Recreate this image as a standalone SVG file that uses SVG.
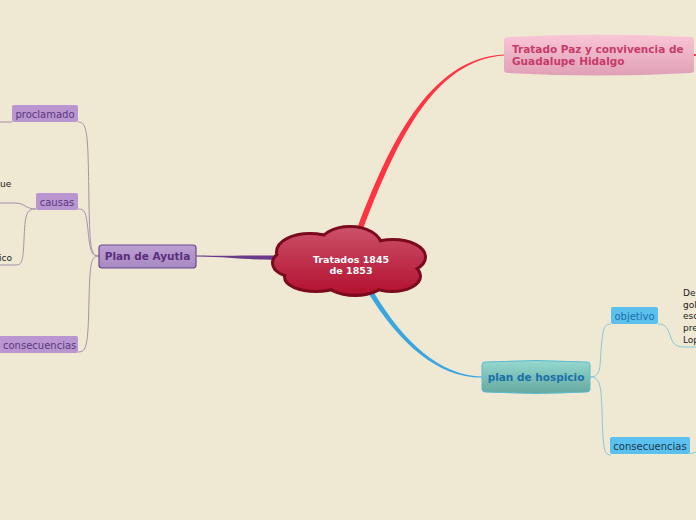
<svg xmlns="http://www.w3.org/2000/svg" width="696" height="520" viewBox="0 0 696 520">
<defs>
<linearGradient id="cloudG" gradientUnits="userSpaceOnUse" x1="0" y1="228" x2="0" y2="296"><stop offset="0" stop-color="#cc5068"/><stop offset="1" stop-color="#b20f2e"/></linearGradient>
<linearGradient id="pinkG" x1="0" y1="0" x2="0" y2="1"><stop offset="0" stop-color="#f9c6d6"/><stop offset="1" stop-color="#e0a0b6"/></linearGradient>
<linearGradient id="tealG" x1="0" y1="0" x2="0" y2="1"><stop offset="0" stop-color="#94d8d0"/><stop offset="1" stop-color="#64a8a0"/></linearGradient>
<linearGradient id="purG" x1="0" y1="0" x2="0" y2="1"><stop offset="0" stop-color="#bc9fd3"/><stop offset="1" stop-color="#a888c2"/></linearGradient>
<style>
.t{font-family:"DejaVu Sans",Verdana,sans-serif}
.pl{fill:#b996cf}
.plt{font-size:10px;fill:#5a3880}
.bl{fill:#5bc0ee}
.thinP{fill:none;stroke:#a393ab;stroke-width:1}
.thinB{fill:none;stroke:#86c8dc;stroke-width:1}
.note{font-size:9px;fill:#222}
</style>
</defs>
<rect width="696" height="520" fill="#efe8d2"/>
<g id="connectors">
<path d="M357,229 C387,150 428,57 505,54.5 L505,55.5 C431,59 393,151 363,229 Z" fill="#ff3341"/>
<path d="M694,55 L696,55" stroke="#ff3341" stroke-width="2"/>
<path d="M367.9,292.4 C400.5,345.2 439.5,378 482,377.5 L482,376.5 C440.5,376 403.5,342.8 372.1,289.6 Z" fill="#3aa6e0"/>
<path d="M196,255.5 C230,256 250,255.5 276,255.5 L276,260 C250,260 230,257 196,256.5 Z" fill="#6a3a8c"/>
<path class="thinP" d="M99,256 C91,256 90,250 89,205 C88,135 88,122 78,122"/>
<path class="thinP" d="M99,256 C91,256 90,250 88,230 C86,212 85,209 78,209"/>
<path class="thinP" d="M99,256 C91,256 90,262 89,300 C88,345 87,352 78,352"/>
<path class="thinP" d="M0,122 L12,122"/>
<path class="thinP" d="M0,203 L15,203 C25,203 25,209 36,209"/>
<path class="thinP" d="M36,209 C26,209 25,215 24,240 C23,262 22,265 15,265 L0,265"/>
<path class="thinB" d="M590,377 C600,377 600,370 601,350 C603,328 604,324 611,324"/>
<path class="thinB" d="M590,377 C600,377 601,385 602,410 C603,450 604,455 611,455"/>
<path class="thinB" d="M658,324 C667,324 668,330 671,338 C674,346 678,347 686,347 L696,347"/>
<path class="thinB" d="M690,454 L696,452"/>
</g>
<g id="central">
<g fill="#7c0a1f" stroke="#7c0a1f" stroke-width="6">
<ellipse cx="310" cy="252" rx="32" ry="17"/>
<ellipse cx="350" cy="246" rx="30" ry="18"/>
<ellipse cx="393" cy="257" rx="31" ry="16"/>
<ellipse cx="297" cy="263" rx="23" ry="13"/>
<ellipse cx="316" cy="277" rx="30" ry="13"/>
<ellipse cx="355" cy="279" rx="30" ry="15"/>
<ellipse cx="392" cy="276" rx="27" ry="14"/>
</g>
<g fill="url(#cloudG)">
<ellipse cx="310" cy="252" rx="32" ry="17"/>
<ellipse cx="350" cy="246" rx="30" ry="18"/>
<ellipse cx="393" cy="257" rx="31" ry="16"/>
<ellipse cx="297" cy="263" rx="23" ry="13"/>
<ellipse cx="316" cy="277" rx="30" ry="13"/>
<ellipse cx="355" cy="279" rx="30" ry="15"/>
<ellipse cx="392" cy="276" rx="27" ry="14"/>
<ellipse cx="350" cy="264" rx="62" ry="22"/>
</g>
<text class="t" x="351" y="263" text-anchor="middle" font-size="9.5" font-weight="bold" fill="#fff">Tratados 1845</text>
<text class="t" x="351" y="274" text-anchor="middle" font-size="9.5" font-weight="bold" fill="#fff">de 1853</text>
</g>
<g id="tratado-paz">
<path d="M508,37 Q599,32 690,37 Q694,37 694,41 L694,70 Q694,73 690,73 Q599,78 508,73 Q504,73 504,70 L504,41 Q504,37 508,37 Z" fill="url(#pinkG)"/>
<text class="t" x="512" y="53" font-size="10.5" font-weight="bold" fill="#c83a6c">Tratado Paz y convivencia de</text>
<text class="t" x="512" y="65" font-size="10.5" font-weight="bold" fill="#c83a6c">Guadalupe Hidalgo</text>
</g>
<g id="plan-hospicio">
<path d="M485,362 Q536,359 587,362 Q590,362 590,365 L590,389 Q590,392 587,392 Q536,395 485,392 Q482,392 482,389 L482,365 Q482,362 485,362 Z" fill="url(#tealG)" stroke="#5cbcd0" stroke-width="1"/>
<text class="t" x="536" y="381" text-anchor="middle" font-size="10.5" font-weight="bold" fill="#1a70a8">plan de hospicio</text>
</g>
<g id="objetivo">
<rect x="611" y="307" width="47" height="17" rx="2" class="bl"/>
<text class="t" x="634.5" y="319.5" text-anchor="middle" font-size="10" fill="#1a70a8">objetivo</text>
</g>
<g id="objetivo-text">
<text class="t note" x="683" y="296">De</text>
<text class="t note" x="683" y="308">gol</text>
<text class="t note" x="683" y="319">esc</text>
<text class="t note" x="683" y="331">pre</text>
<text class="t note" x="683" y="343">Lop</text>
</g>
<g id="consecuencias-b">
<rect x="610" y="437" width="80" height="17" rx="2" class="bl"/>
<text class="t" x="650" y="449.5" text-anchor="middle" font-size="10" fill="#173850">consecuencias</text>
</g>
<g id="plan-ayutla">
<rect x="99" y="245" width="97" height="23" rx="3" fill="url(#purG)" stroke="#6b4a8b" stroke-width="1.2"/>
<text class="t" x="147.5" y="260" text-anchor="middle" font-size="10.5" font-weight="bold" fill="#5a2f7a">Plan de Ayutla</text>
</g>
<g id="proclamado">
<rect x="12" y="105" width="66" height="17" rx="2" class="pl"/>
<text class="t plt" x="45" y="117.5" text-anchor="middle">proclamado</text>
</g>
<g id="causas">
<rect x="36" y="193" width="42" height="17" rx="2" class="pl"/>
<text class="t plt" x="57" y="205.5" text-anchor="middle">causas</text>
</g>
<g id="causas-text">
<text class="t note" x="0" y="187">ue</text>
<text class="t note" x="-1" y="261">ico</text>
</g>
<g id="consecuencias-a">
<rect x="-4" y="336" width="82" height="17" rx="2" class="pl"/>
<text class="t plt" x="3" y="348.5">consecuencias</text>
</g>
</svg>
